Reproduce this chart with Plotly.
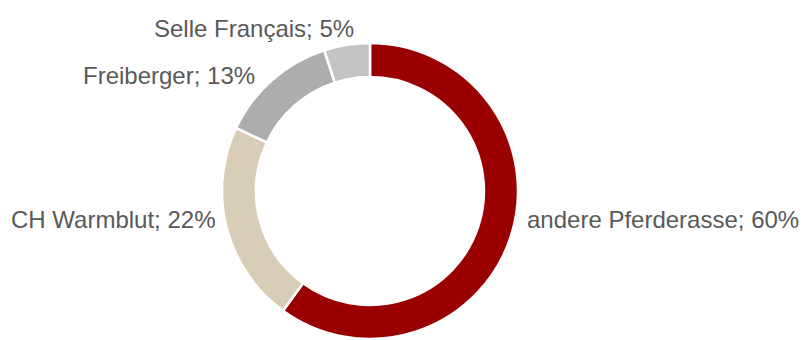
import plotly.graph_objects as go

# Horse breeds share
breeds = ["andere Pferderasse", "CH Warmblut", "Freiberger", "Selle Français"]
shares = [60, 22, 13, 5]
colors = ["#9b0000", "#dacdb7", "#adadad", "#c4c4c6"]

W, H = 806, 340

# Label anchor points in pixels (x, y from top) and horizontal anchor
label_pos = [(525, 219, "left"), (218, 219, "right"), (257, 75, "right"), (356, 28, "right")]

fig = go.Figure(go.Pie(
    labels=breeds,
    values=shares,
    sort=False,
    direction="clockwise",
    rotation=0,
    hole=0.77,
    marker=dict(colors=colors, line=dict(color="white", width=2.5)),
    textinfo="none",
    hoverinfo="label+percent",
    domain=dict(x=[(370 - 148) / W, (370 + 148) / W], y=[1 / H, 297 / H]),
    showlegend=False,
))

total = sum(shares)
for name, val, (px, py, anchor) in zip(breeds, shares, label_pos):
    fig.add_annotation(
        x=px / W, y=1 - py / H, xref="paper", yref="paper",
        text=f"{name}; {round(100 * val / total)}%",
        showarrow=False, xanchor=anchor, yanchor="middle",
        font=dict(family="Liberation Sans, Arial, sans-serif", size=24, color="#595959"),
    )

fig.update_layout(
    width=W, height=H,
    margin=dict(l=0, r=0, t=0, b=0),
    paper_bgcolor="white", plot_bgcolor="white",
)

fig.write_html("out.html")
